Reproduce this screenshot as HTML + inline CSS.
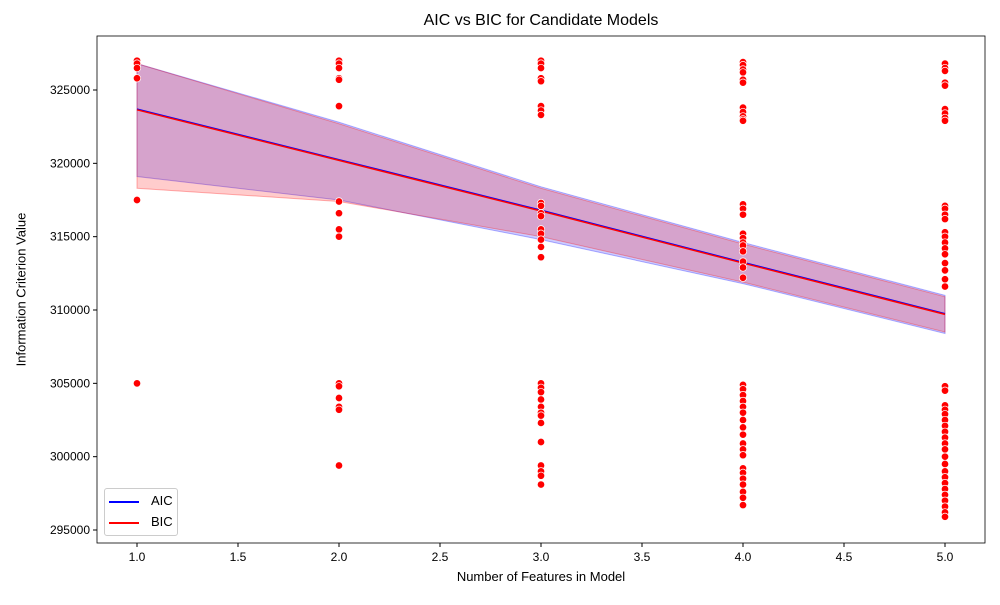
<!DOCTYPE html>
<html><head><meta charset="utf-8"><style>
body{margin:0;background:#fff;font-family:"Liberation Sans","DejaVu Sans",sans-serif}
</style></head><body>
<svg id="c" width="1000" height="600" xmlns="http://www.w3.org/2000/svg"></svg>
<script>
const xTicks=[1.0,1.5,2.0,2.5,3.0,3.5,4.0,4.5,5.0];
const yTicks=[295000,300000,305000,310000,315000,320000,325000];
const features=[1,2,3,4,5];
const aicMean=[323700,320250,316800,313250,309750];
const aicLow=[319100,317500,314800,311800,308400];
const aicHigh=[326800,322800,318400,314600,311000];
const bicMean=[323650,320200,316750,313200,309700];
const bicLow=[318300,317400,315000,311900,308500];
const bicHigh=[326800,322700,318300,314500,310900];
const pts1=[327000,326800,326500,325800,317500,305000];
const pts2=[327000,326800,326500,325800,325700,323900,317400,316600,315500,315000,305000,304800,304000,303400,303200,299400];
const pts3=[327000,326800,326500,325800,325600,323900,323600,323300,317300,317100,316600,316400,315500,315200,314800,314300,313600,305000,304700,304400,303900,303400,303000,302800,302300,301000,299400,299000,298700,298100];
const pts4=[326900,326700,326400,326200,325700,325500,323800,323500,323200,323000,322900,317200,316900,316500,315200,314900,314600,314400,314000,313300,312900,312200,304900,304600,304200,303800,303400,303000,302500,302000,301500,300900,300500,300100,299200,298900,298500,298100,297600,297200,296700];
const pts5=[326800,326500,326300,325500,325300,323700,323400,323100,322900,317100,316900,316500,316200,315300,315000,314600,314200,313800,313200,312700,312100,311600,304800,304500,303500,303200,302900,302500,302100,301700,301300,300900,300500,300000,299500,299000,298600,298200,297800,297400,297000,296600,296200,295900];
const allPts=[pts1,pts2,pts3,pts4,pts5];
const svg=document.getElementById('c');const NS='http://www.w3.org/2000/svg';
const L=97,R=985,T=36,B=543;
const sx=v=>137+(v-1)*202;
const sy=v=>90+(325000-v)/1000*14.667;
function mk(t,a,p){const e=document.createElementNS(NS,t);for(const k in a)e.setAttribute(k,a[k]);(p||svg).appendChild(e);return e;}
function band(lo,hi,fill,stroke,name){let d='M';features.forEach((f,i)=>d+=(i?'L':'')+sx(f)+','+sy(hi[i]));for(let i=features.length-1;i>=0;i--)d+='L'+sx(features[i])+','+sy(lo[i]);d+='Z';
const e=mk('path',{d:d,fill:fill,'fill-opacity':0.2,stroke:stroke,'stroke-opacity':0.3});

}
band(aicLow,aicHigh,'#0000ff','#0000ff','aic-confidence-band');
band(bicLow,bicHigh,'#ff0000','#ff0000','bic-confidence-band');
function line(m,c,name){const e=mk('polyline',{points:features.map((f,i)=>sx(f)+','+sy(m[i])).join(' '),fill:'none',stroke:c,'stroke-width':1.5});

}
line(aicMean,'#0000ff','aic-line');
line(bicMean,'#ff0000','bic-line');
allPts.forEach((arr,i)=>arr.forEach(v=>{const c=mk('circle',{cx:sx(features[i]),cy:sy(v),r:3.7,fill:'#ff0000',stroke:'#fff','stroke-width':0.7});

}));
const fr=mk('rect',{x:L,y:T,width:R-L,height:B-T,fill:'none',stroke:'#000','stroke-width':0.8});


xTicks.forEach(t=>{mk('line',{x1:sx(t),x2:sx(t),y1:B,y2:B+4,stroke:'#000'});const tx=mk('text',{x:sx(t),y:B+18,'text-anchor':'middle','font-size':12});tx.textContent=t.toFixed(1);

});
yTicks.forEach(t=>{mk('line',{x1:L-4,x2:L,y1:sy(t),y2:sy(t),stroke:'#000'});const tx=mk('text',{x:L-7,y:sy(t)+4,'text-anchor':'end','font-size':12});tx.textContent=t;

});
</script>
<div style="position:absolute;left:0;top:12px;width:1082px;text-align:center;font-size:16px">AIC vs BIC for Candidate Models</div>
<div style="position:absolute;left:97px;top:569px;width:888px;text-align:center;font-size:13px">Number of Features in Model</div>
<div style="position:absolute;left:-69px;top:282px;width:180px;text-align:center;font-size:13px;transform:rotate(-90deg)">Information Criterion Value</div>
<div style="position:absolute;left:104px;top:488px;width:72px;height:46px;border:1px solid #ccc;border-radius:3px;background:rgba(255,255,255,0.8);font-size:13px">
<div style="position:absolute;left:4px;top:4px"><span style="display:inline-block;width:30px;border-top:2px solid #00f;vertical-align:middle;margin-right:12px"></span>AIC</div>
<div style="position:absolute;left:4px;top:25px"><span style="display:inline-block;width:30px;border-top:2px solid #f00;vertical-align:middle;margin-right:12px"></span>BIC</div>
</div>
</body></html>
